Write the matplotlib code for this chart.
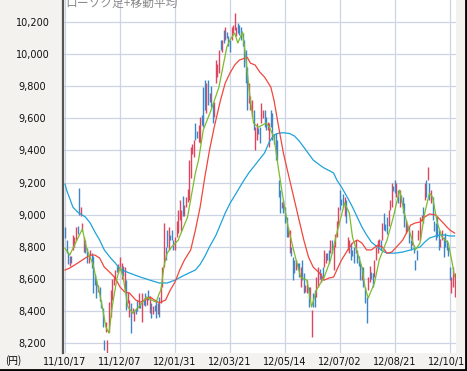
import numpy as np
import matplotlib.pyplot as plt
from matplotlib.ticker import FuncFormatter

plt.rcParams['font.family'] = ['DejaVu Sans', 'Noto Sans CJK JP']

# candle data (open / close), one per trading day from 11/10/17
opens = [8920, 8840, 8770, 8680, 8740, 8780, 8800, 8840, 8930, 9166,
         8990, 8900, 8770, 8840, 8790, 8700, 8740, 8760, 8740, 8630,
         8600, 8520, 8550, 8470, 8418, 8220, 8270, 8138, 8270, 8360,
         8470, 8560, 8590, 8680, 8636, 8655, 8600, 8680, 8512, 8592,
         8450, 8362, 8450, 8387, 8340, 8420, 8470, 8420, 8450, 8330,
         8480, 8510, 8440, 8530, 8390, 8450, 8380, 8440, 8468, 8380,
         8487, 8450, 8549, 8673, 8800, 8904, 8780, 8870, 8904, 8842,
         8780, 8860, 8885, 8966, 8900, 9115, 8990, 9050, 9080, 9091,
         9230, 9380, 9359, 9571, 9520, 9450, 9446, 9620, 9795, 9838,
         9630, 9838, 9700, 9800, 9695, 9610, 9820, 9860, 9882, 10088,
         10010, 10150, 10088, 10140, 10110, 10088, 10088, 10130, 10150, 10110,
         10194, 10180, 10169, 10131, 10088, 10026, 9920, 9695, 9650, 9610,
         9652, 9403, 9465, 9540, 9546, 9570, 9600, 9652, 9610, 9530,
         9421, 9652, 9630, 9500, 9508, 9465, 9216, 9153, 9040, 9091,
         9047, 8985, 8860, 8760, 8800, 8736, 8717, 8655, 8700, 8698,
         8549, 8717, 8636, 8520, 8512, 8549, 8468, 8237, 8512, 8530,
         8487, 8549, 8660, 8580, 8673, 8673, 8700, 8760, 8780, 8760,
         8842, 8655, 8800, 8860, 8923, 9153, 9100, 9130, 8990, 9091,
         8780, 8760, 8823, 8780, 8798, 8760, 8780, 8740, 8698, 8592,
         8673, 8549, 8487, 8530, 8580, 8640, 8636, 8611, 8717, 8760,
         8800, 8842, 8842, 9010, 8940, 8985, 8930, 9029, 9047, 9180,
         9216, 9110, 9153, 9047, 9120, 9110, 9072, 8885, 8940, 8923,
         8842, 8811, 8811, 8717, 8780, 8842, 8842, 8960, 9047, 9091,
         9216, 9216, 9197, 9072, 9110, 8960, 8948, 8985, 8904, 8800,
         8842, 8860, 8885, 8842, 8800, 8673, 8512, 8549, 8487]
closes = [8855, 8760, 8690, 8740, 8700, 8870, 8860, 8920, 8880, 8998,
          9050, 8950, 8860, 8760, 8700, 8740, 8780, 8670, 8510, 8560,
          8480, 8560, 8460, 8420, 8300, 8155, 8330, 8220, 8455, 8530,
          8600, 8620, 8655, 8640, 8690, 8736, 8700, 8620, 8673, 8405,
          8520, 8468, 8262, 8420, 8405, 8380, 8400, 8510, 8420, 8510,
          8440, 8430, 8480, 8470, 8490, 8355, 8430, 8400, 8355, 8450,
          8362, 8550, 8673, 8948, 8720, 8798, 8923, 8840, 8842, 8780,
          8860, 8960, 9029, 9091, 9030, 8990, 9060, 9110, 9160, 9340,
          9420, 9440, 9465, 9465, 9480, 9560, 9608, 9560, 9546, 9652,
          9820, 9680, 9760, 9670, 9570, 9700, 9963, 9940, 10026, 10026,
          10088, 10069, 10169, 10100, 10050, 10010, 10169, 10180, 10256, 10169,
          10131, 10120, 10088, 10050, 9920, 9820, 9652, 9820, 9740, 9714,
          9527, 9546, 9571, 9500, 9446, 9695, 9650, 9546, 9530, 9580,
          9570, 9546, 9465, 9440, 9340, 9340, 9110, 9010, 9080, 9010,
          8948, 8860, 8923, 8904, 8740, 8592, 8636, 8717, 8660, 8611,
          8673, 8592, 8512, 8560, 8592, 8425, 8549, 8405, 8425, 8425,
          8611, 8673, 8600, 8636, 8592, 8780, 8760, 8720, 8700, 8842,
          8760, 8811, 8880, 8960, 9047, 9029, 9060, 9047, 9110, 8948,
          8860, 8842, 8717, 8740, 8700, 8842, 8700, 8680, 8592, 8673,
          8549, 8450, 8325, 8611, 8680, 8600, 8549, 8717, 8798, 8842,
          8850, 8780, 8948, 8904, 8900, 8880, 9029, 9091, 9197, 9150,
          9134, 9197, 9072, 9153, 9080, 9010, 8923, 8966, 8900, 8823,
          8780, 8904, 8760, 8655, 8720, 8904, 8985, 9000, 8948, 9197,
          9110, 9297, 9091, 9153, 8966, 8900, 8842, 8860, 8780, 8850,
          8904, 8736, 8800, 8780, 8740, 8592, 8611, 8673, 8636]

# moving averages (bar index, value)
ma_short_idx = [0, 3, 7, 11, 14, 18, 19, 22, 24, 26, 28, 30, 33, 35, 37, 40, 43, 46,
                49, 52, 55, 58, 60, 61, 63, 65, 68, 72, 78, 83, 85, 88, 93, 98, 103,
                105, 108, 110, 113, 115, 117, 118, 120, 123, 128, 130, 133, 136, 139,
                142, 146, 150, 154, 157, 160, 165, 169, 174, 178, 181, 183, 185, 189,
                191, 193, 197, 200, 205, 209, 213, 216, 219, 223, 226, 229, 232, 234,
                237, 240, 244, 247, 248]
ma_short = [8790, 8748, 8830, 8910, 8780, 8686, 8636, 8510, 8410, 8300, 8262, 8425,
            8600, 8673, 8610, 8425, 8387, 8415, 8450, 8487, 8468, 8455, 8510, 8530,
            8680, 8760, 8800, 8840, 8985, 9260, 9340, 9527, 9652, 9795, 10044, 10088,
            10131, 10069, 10138, 9982, 9795, 9714, 9570, 9545, 9570, 9546, 9483, 9278,
            9091, 8923, 8760, 8611, 8592, 8425, 8530, 8611, 8717, 8923, 9072, 9010,
            8860, 8798, 8673, 8549, 8480, 8574, 8717, 8842, 8985, 9153, 9010, 8904,
            8780, 8823, 9010, 9134, 9110, 8948, 8860, 8823, 8673, 8611]

ma_mid_idx = [0, 3, 8, 13, 16, 19, 22, 25, 29, 32, 35, 38, 41, 45, 48, 51, 54, 57, 60,
              64, 67, 70, 73, 76, 80, 83, 86, 89, 92, 95, 99, 102, 105, 108, 111, 116,
              118, 121, 124, 127, 131, 133, 136, 139, 143, 146, 149, 152, 155, 158,
              162, 165, 168, 171, 173, 176, 180, 183, 186, 189, 192, 195, 199, 202,
              205, 208, 211, 215, 220, 223, 226, 229, 232, 236, 239, 242, 245, 248]
ma_mid = [8655, 8667, 8698, 8730, 8748, 8748, 8730, 8673, 8636, 8605, 8549, 8518,
          8512, 8468, 8455, 8468, 8487, 8468, 8450, 8468, 8530, 8580, 8655, 8717,
          8780, 8904, 9047, 9234, 9403, 9546, 9714, 9820, 9882, 9932, 9963, 9980,
          9944, 9932, 9888, 9857, 9795, 9714, 9546, 9384, 9216, 9091, 8966, 8842,
          8736, 8673, 8636, 8592, 8605, 8611, 8655, 8717, 8780, 8823, 8842, 8823,
          8780, 8780, 8810, 8798, 8760, 8767, 8798, 8842, 8935, 8948, 8954, 8985,
          9004, 8998, 8966, 8935, 8904, 8885]

ma_long_idx = [0, 1, 5, 8, 13, 16, 19, 22, 25, 29, 32, 35, 41, 48, 54, 60, 65, 70, 76,
               83, 86, 89, 92, 96, 99, 102, 105, 109, 113, 117, 122, 127, 130, 133,
               136, 139, 143, 146, 149, 152, 155, 158, 162, 165, 168, 171, 173, 176,
               180, 183, 186, 189, 192, 195, 199, 202, 205, 210, 215, 220, 223, 226,
               229, 232, 236, 239, 242, 245, 248]
ma_long = [9190, 9153, 9047, 9016, 8985, 8948, 8892, 8842, 8780, 8730, 8698, 8661,
           8636, 8611, 8592, 8574, 8574, 8592, 8623, 8655, 8690, 8740, 8800, 8870,
           8940, 9010, 9070, 9134, 9200, 9260, 9322, 9384, 9452, 9496, 9508, 9510,
           9505, 9490, 9460, 9420, 9380, 9340, 9310, 9290, 9275, 9259, 9216, 9172,
           9103, 9047, 8985, 8923, 8873, 8829, 8798, 8773, 8760, 8760, 8767, 8780,
           8790, 8798, 8829, 8854, 8867, 8873, 8873, 8867, 8867]

tick_pos = [0, 35, 70, 105, 140, 175, 210, 245]
tick_labels = ["11/10/17", "11/12/07", "12/01/31", "12/03/21",
               "12/05/14", "12/07/02", "12/08/21", "12/10/11"]
y_ticks = [8200, 8400, 8600, 8800, 9000, 9200, 9400, 9600, 9800, 10000, 10200]

W, H = 467, 371
fig = plt.figure(figsize=(W / 100, H / 100), dpi=100, facecolor="#f3f2ef")
ax = fig.add_axes([63 / W, 18 / H, (456 - 63) / W, (H - 18) / H])
ax.set_facecolor("white")

ax.set_xlim(-1.3, 248.9)
ax.set_ylim(8138, 10337)

ax.set_xticks(tick_pos)
ax.set_xticklabels(tick_labels)
ax.set_yticks(y_ticks)
ax.yaxis.set_major_formatter(FuncFormatter(lambda v, p: f"{int(v):,}"))
ax.grid(True, color="#cdd5e4", lw=0.9)
ax.set_axisbelow(True)
ax.tick_params(length=0, labelsize=7, colors="#111111")
ax.tick_params(axis="y", pad=22)
ax.tick_params(axis="x", pad=3)
for lab in ax.get_yticklabels():
    lab.set_horizontalalignment("center")

for s in ["top", "right", "bottom"]:
    ax.spines[s].set_visible(False)
ax.spines["left"].set_color("#555555")
ax.spines["left"].set_linewidth(1.6)

idx = np.arange(len(opens))
o = np.array(opens)
c = np.array(closes)
up = c >= o
ax.vlines(idx[up], o[up], c[up], color="#e0455f", lw=1.0, zorder=2)
ax.vlines(idx[~up], o[~up], c[~up], color="#3f86c8", lw=1.0, zorder=2)

ax.plot(ma_long_idx, ma_long, color="#1ea3d9", lw=0.9, zorder=3)
ax.plot(ma_mid_idx, ma_mid, color="#f0473c", lw=0.9, zorder=3)
ax.plot(ma_short_idx, ma_short, color="#7dbb2e", lw=0.9, zorder=3)

fig.text(65 / W, 1 - 3 / H, "ローソク足+移動平均", color="#8a8a8a", fontsize=8.5,
         va="center", ha="left", family=["Noto Sans CJK JP", "DejaVu Sans"])
fig.text(13 / W, 1 - 361 / H, "(円)", fontsize=7, ha="center", va="center",
         family=["Noto Sans CJK JP", "DejaVu Sans"])

# outer frame on right / bottom
fig.add_artist(plt.Line2D([1 - 1 / W, 1 - 1 / W], [0, 1], color="black", lw=2,
                          transform=fig.transFigure))
fig.add_artist(plt.Line2D([0, 1], [1 / H, 1 / H], color="black", lw=2,
                          transform=fig.transFigure))

fig.savefig("out.png", dpi=100, facecolor=fig.get_facecolor())
